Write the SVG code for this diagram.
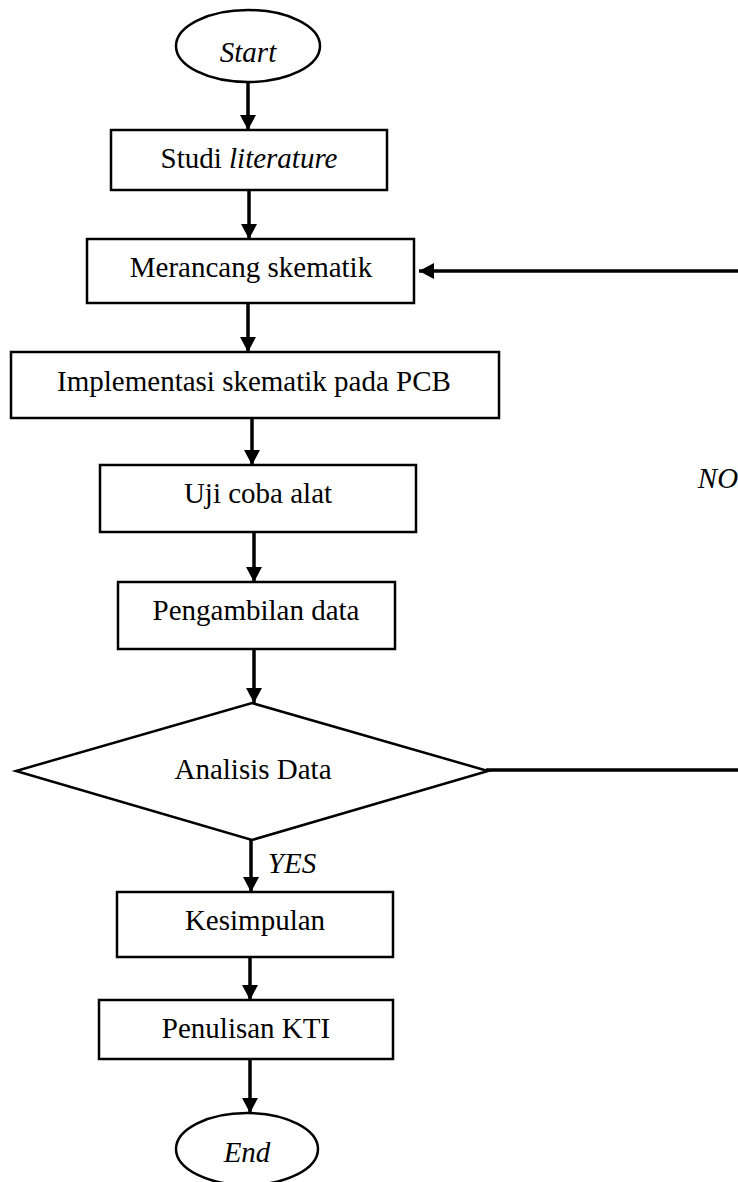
<svg xmlns="http://www.w3.org/2000/svg" width="738" height="1182" viewBox="0 0 738 1182">
<style>
.box{fill:#fff;stroke:#000;stroke-width:2.5}
.t{font-family:"Liberation Serif","Times New Roman",serif;font-size:29px;fill:#000;text-anchor:middle}
.i{font-style:italic}
.c{stroke:#000;stroke-width:3.5;fill:none}
</style>
<defs>
<marker id="ah" markerUnits="userSpaceOnUse" markerWidth="17" markerHeight="17" refX="15" refY="8" orient="auto">
<path d="M0,0 L15,8 L0,16 Z" fill="#000"/>
</marker>
</defs>
<rect width="738" height="1182" fill="#fff"/>
<g id="connectors">
<line class="c" x1="248" y1="82" x2="248" y2="130" marker-end="url(#ah)"/>
<line class="c" x1="249" y1="190" x2="249" y2="239" marker-end="url(#ah)"/>
<line class="c" x1="248" y1="303" x2="248" y2="352" marker-end="url(#ah)"/>
<line class="c" x1="252" y1="418" x2="252" y2="465" marker-end="url(#ah)"/>
<line class="c" x1="254" y1="532" x2="254" y2="582" marker-end="url(#ah)"/>
<line class="c" x1="254" y1="649" x2="254" y2="703" marker-end="url(#ah)"/>
<line class="c" x1="251" y1="840" x2="251" y2="892" marker-end="url(#ah)"/>
<line class="c" x1="250" y1="957" x2="250" y2="1000" marker-end="url(#ah)"/>
<line class="c" x1="250" y1="1059" x2="250" y2="1113" marker-end="url(#ah)"/>
<line class="c" x1="738" y1="271" x2="419" y2="271" marker-end="url(#ah)"/>
<line class="c" x1="486" y1="770" x2="738" y2="770"/>
<text class="t i" x="292" y="873">YES</text>
<text class="t i" x="718" y="488">NO</text>
</g>
<g id="start">
<ellipse class="box" cx="248" cy="46" rx="72" ry="36"/>
<text class="t i" x="248" y="62">Start</text>
</g>
<g id="studi">
<rect class="box" x="111" y="130" width="276" height="60"/>
<text class="t" x="249" y="168">Studi <tspan class="i">literature</tspan></text>
</g>
<g id="merancang">
<rect class="box" x="87" y="239" width="327" height="64"/>
<text class="t" x="251" y="277">Merancang skematik</text>
</g>
<g id="implementasi">
<rect class="box" x="11" y="352" width="488" height="66"/>
<text class="t" x="254" y="391">Implementasi skematik pada PCB</text>
</g>
<g id="uji">
<rect class="box" x="100" y="465" width="316" height="67"/>
<text class="t" x="258" y="503">Uji coba alat</text>
</g>
<g id="pengambilan">
<rect class="box" x="118" y="582" width="277" height="67"/>
<text class="t" x="256" y="620">Pengambilan data</text>
</g>
<g id="analisis">
<polygon class="box" points="252,703 488,771 252,840 16,771"/>
<text class="t" x="253" y="779">Analisis Data</text>
</g>
<g id="kesimpulan">
<rect class="box" x="117" y="892" width="276" height="65"/>
<text class="t" x="255" y="930">Kesimpulan</text>
</g>
<g id="penulisan">
<rect class="box" x="99" y="1000" width="294" height="59"/>
<text class="t" x="246" y="1038">Penulisan KTI</text>
</g>
<g id="end">
<ellipse class="box" cx="247" cy="1149" rx="71" ry="36"/>
<text class="t i" x="247" y="1162">End</text>
</g>
</svg>
